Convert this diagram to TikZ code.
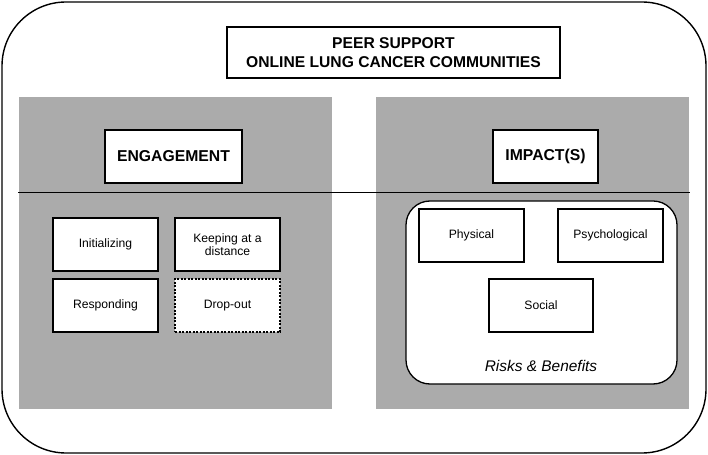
\documentclass[tikz,border=0pt]{standalone}
\usepackage{fontspec}
\setmainfont{Liberation Sans}
\usetikzlibrary{positioning}
\definecolor{panelgray}{HTML}{ABABAB}
\begin{document}
\begin{tikzpicture}[x=1bp,y=-1bp,
  panel/.style={fill=panelgray,draw=none},
  wbox/.style={draw=black,fill=white,line width=1.3bp,align=center,inner sep=0pt,font=\fontsize{12.2}{13.5}\selectfont},
  headbox/.style={draw=black,fill=white,line width=1.3bp,align=center,inner sep=0pt,font=\fontsize{15.8}{18}\selectfont\bfseries}]
\useasboundingbox (0,0) rectangle (708,455);
% outer frame
\draw[line width=1.4bp,rounded corners=64bp] (2,2) rectangle (706,453);
% title
\node[headbox,minimum width=333bp,minimum height=51bp,font=\fontsize{15.7}{19}\selectfont\bfseries] (title) at (393.5,52.5) {PEER SUPPORT\\ONLINE LUNG CANCER COMMUNITIES};
% panels
\fill[panel] (19,97) rectangle (332,409);
\fill[panel] (376,97) rectangle (689,409);
\coordinate (sepL) at (18,192);
\coordinate (sepR) at (690,192);
\draw[line width=0.9bp] (sepL) -- (sepR);
% headers
\node[headbox,minimum width=137bp,minimum height=53bp] (eng) at (173.5,156.5) {ENGAGEMENT};
\node[headbox,minimum width=105bp,minimum height=53bp] (imp) at (545.5,156.5) {IMPACT(S)};
% engagement boxes
\node[wbox,minimum width=105bp,minimum height=53bp] (init) at (105.5,244.5) {Initializing};
\node[wbox,minimum width=105bp,minimum height=53bp] (keep) at (227.5,244.5) {Keeping at a\\distance};
\node[wbox,minimum width=105bp,minimum height=53bp] (resp) at (105.5,305.5) {Responding};
\node[wbox,minimum width=105bp,minimum height=53bp,dashed,dash pattern=on 2bp off 1.5bp] (drop) at (227.5,305.5) {Drop-out};
% impacts container
\node[draw=black,fill=white,line width=1.3bp,rounded corners=24bp,minimum width=271bp,minimum height=183bp,inner sep=0pt] (rb) at (541.5,292.5) {};
\node[wbox,minimum width=105bp,minimum height=53bp] (phys) at (471.5,235.5) {Physical};
\node[wbox,minimum width=105bp,minimum height=53bp] (psy) at (610.5,235.5) {Psychological};
\node[wbox,minimum width=104bp,minimum height=53bp] (soc) at (541,305.5) {Social};
\node[font=\fontsize{15.5}{17}\selectfont\itshape,inner sep=0pt] (rbtext) at (541,366) {Risks \& Benefits};
\end{tikzpicture}
\end{document}
